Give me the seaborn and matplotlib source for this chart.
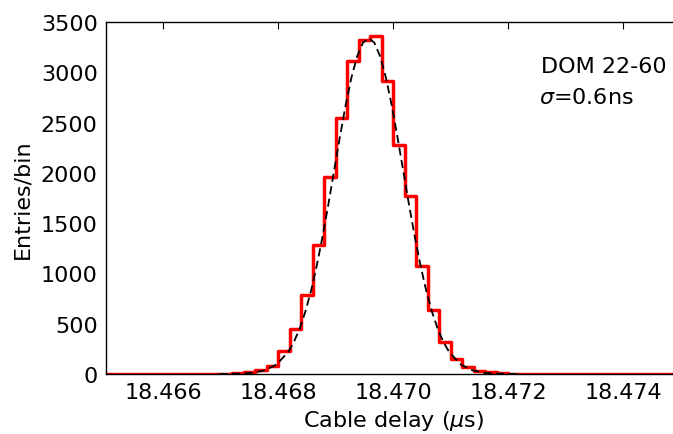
import numpy as np
import pandas as pd
import matplotlib
matplotlib.use("Agg")
import matplotlib.pyplot as plt
import seaborn as sns

# histogram: 50 bins of 0.2 ns between 18.465 and 18.475 us
x_lo, x_hi = 18.465, 18.475
counts = [0, 0, 0, 0, 0, 0, 0, 0, 0, 0,
          2, 5, 17, 43, 78, 231, 446, 786, 1279, 1960,
          2545, 3116, 3321, 3364, 2918, 2280, 1768, 1075, 638, 320,
          149, 68, 30, 15, 5, 2, 0, 0, 0, 0,
          0, 0, 0, 0, 0, 0, 0, 0, 0, 0]

# dashed fit curve
fit_x = [18.46697, 18.46717, 18.46737, 18.46757, 18.46777, 18.46797, 18.46817, 18.46827,
         18.46837, 18.46847, 18.46857, 18.46867, 18.46877, 18.46887, 18.46897, 18.46907,
         18.46917, 18.46927, 18.46937, 18.46947, 18.46957, 18.46967, 18.46977, 18.46987,
         18.46997, 18.47007, 18.47017, 18.47027, 18.47037, 18.47047, 18.47057, 18.47067,
         18.47077, 18.47087, 18.47097, 18.47117, 18.47137, 18.47157, 18.47177, 18.47197,
         18.47217]
fit_y = [0, 1, 4, 13, 37, 95, 219, 319,
         452, 622, 832, 1085, 1373, 1690, 2026, 2360,
         2675, 2948, 3159, 3294, 3340, 3294, 3159, 2948,
         2675, 2360, 2026, 1690, 1373, 1085, 832, 622,
         452, 319, 219, 95, 37, 13, 4, 1,
         0]

label_text = ["DOM 22-60", r"$\sigma$=0.6ns"]

sns.set_style("white")
plt.rcParams["font.family"] = ["DejaVu Sans"]
plt.rcParams["mathtext.fontset"] = "dejavusans"
for key in ["text.color", "axes.labelcolor", "xtick.color", "ytick.color"]:
    plt.rcParams[key] = "black"

fig = plt.figure(figsize=(6.73, 4.35), dpi=100)
ax = fig.add_axes([0.1575, 0.138, 0.854, 0.809])

edges = np.linspace(x_lo, x_hi, len(counts) + 1)
df = pd.DataFrame({"delay": (edges[:-1] + edges[1:]) / 2, "count": counts})
sns.histplot(data=df, x="delay", weights="count", bins=list(edges), element="step",
             fill=False, color="red", linewidth=2.5, ax=ax)
sns.lineplot(x=fit_x, y=fit_y, color="black", linewidth=1.3, ax=ax)
ax.lines[-1].set_linestyle((0, (4.5, 2.5)))

ax.set_xlim(x_lo, x_hi)
ax.set_ylim(0, 3500)
ax.set_xticks([18.466, 18.468, 18.470, 18.472, 18.474])
ax.set_xticklabels(["18.466", "18.468", "18.470", "18.472", "18.474"])
ax.set_yticks(range(0, 3501, 500))
ax.tick_params(direction="in", top=True, right=True, length=5, width=0.8,
               labelsize=16, pad=6, color="black")
for s in ax.spines.values():
    s.set_color("black")
    s.set_linewidth(1.0)

ax.set_xlabel(r"Cable delay ($\mu$s)", fontsize=16, labelpad=4)
ax.set_ylabel("Entries/bin", fontsize=16, labelpad=6)

ax.text(0.756, 0.859, label_text[0], transform=ax.transAxes,
        fontsize=16, va="baseline", ha="left")
ax.text(0.754, 0.770, label_text[1], transform=ax.transAxes,
        fontsize=16, va="baseline", ha="left")

fig.savefig("out.png", dpi=100)
